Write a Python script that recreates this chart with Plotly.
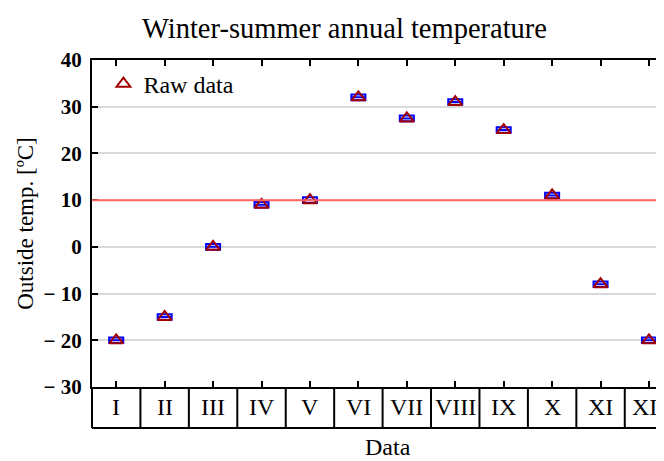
import plotly.graph_objects as go

categories = ["I", "II", "III", "IV", "V", "VI", "VII", "VIII", "IX", "X", "XI", "XII"]
temps = [-20, -15, 0, 9, 10, 32, 27.5, 31, 25, 11, -8, -20]
y_tickvals = [40, 30, 20, 10, 0, -10, -20, -30]
y_ticktext = ["40", "30", "20", "10", "0", "\u2212 10", "\u2212 20", "\u2212 30"]
threshold = 10

FONT = "Liberation Serif"
n = len(categories)
xi = list(range(n))
half = 0.6

# page has an 8px body margin; figure sized to fit the window
W, H = 656, 453
ML, MT, MB = 84, 52, 74
PH = H - MT - MB  # plot height

fig = go.Figure()

fig.add_trace(go.Box(
    x=xi, q1=[v - half for v in temps], median=temps, q3=[v + half for v in temps],
    lowerfence=[v - half for v in temps], upperfence=[v + half for v in temps],
    width=0.29, line=dict(color="#0000ff", width=2), fillcolor="rgba(0,0,0,0)",
    showlegend=False, hoverinfo="skip", whiskerwidth=0,
))

fig.add_trace(go.Scatter(
    x=xi, y=temps, mode="markers", name="Raw data",
    marker=dict(symbol="triangle-up-open", size=12, color="#a00000",
                line=dict(color="#a00000", width=2)),
))

fig.add_shape(type="line", xref="paper", x0=0, x1=1, yref="y", y0=threshold, y1=threshold,
              line=dict(color="#ff6666", width=2), layer="above")

# category table below the plot
tb = -41 / PH
for k in range(n):
    fig.add_shape(type="line", xref="x", x0=k + 0.5, x1=k + 0.5, yref="paper", y0=tb, y1=0,
                  line=dict(color="black", width=2))
fig.add_shape(type="line", xref="paper", x0=0, x1=1, yref="paper", y0=tb, y1=tb,
              line=dict(color="black", width=2))
fig.add_shape(type="line", xref="paper", x0=0, x1=0, yref="paper", y0=tb, y1=0,
              line=dict(color="black", width=2))
for k, c in enumerate(categories):
    fig.add_annotation(x=k, y=tb / 2, xref="x", yref="paper", text=c, showarrow=False,
                       font=dict(family=FONT, size=24, color="black"), yanchor="middle")

fig.add_annotation(x=(380 - ML) / (W - ML), y=-MB / PH, xref="paper", yref="paper",
                   text="Data", showarrow=False, yanchor="bottom", borderpad=0,
                   font=dict(family=FONT, size=24, color="black"))

fig.update_layout(
    width=W, height=H,
    margin=dict(l=ML, r=0, t=MT, b=MB),
    paper_bgcolor="white", plot_bgcolor="white",
    title=dict(text="Winter-summer annual temperature", x=336.5 / W, xanchor="center",
               y=1 - 20 / H, yanchor="middle",
               font=dict(family=FONT, size=28.5, color="black")),
    font=dict(family=FONT, color="black"),
    showlegend=True,
    legend=dict(x=0.02, y=0.995, xanchor="left", yanchor="top", bgcolor="rgba(0,0,0,0)",
                font=dict(family=FONT, size=24, color="black"), itemwidth=30),
    xaxis=dict(range=[-0.5, 11.31], tickvals=xi, ticktext=[""] * n, ticks="inside",
               ticklen=6, tickwidth=2, tickcolor="black", showgrid=False,
               showline=True, linecolor="black", linewidth=2, mirror="ticks", zeroline=False),
    yaxis=dict(range=[-30, 40], tickvals=y_tickvals, ticktext=y_ticktext, ticks="inside",
               ticklen=6, tickwidth=2, tickcolor="black", showgrid=True,
               gridcolor="#d9d9d9", gridwidth=2, showline=True, linecolor="black",
               linewidth=2, zeroline=False, ticklabelstandoff=4,
               tickfont=dict(family=FONT, size=21, color="black", weight="bold"),
               title=dict(text="Outside temp. [\u00baC]", font=dict(family=FONT, size=23),
                          standoff=4)),
)

fig.write_html("out.html")
